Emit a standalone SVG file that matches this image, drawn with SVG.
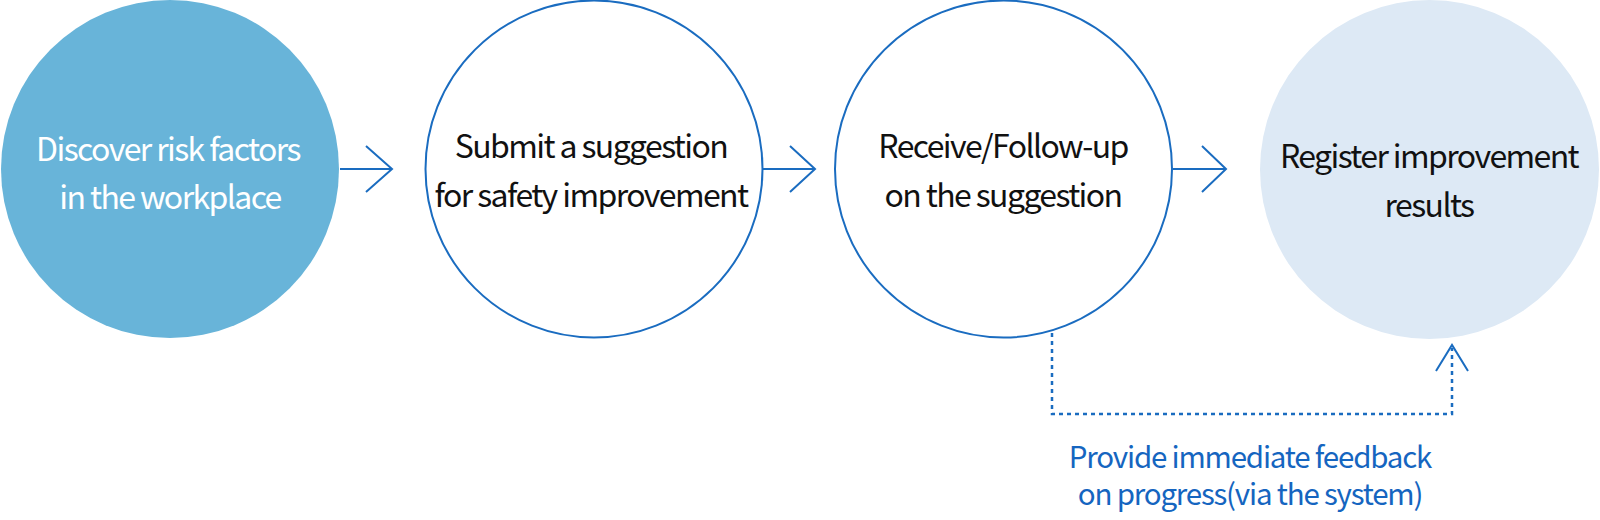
<svg xmlns="http://www.w3.org/2000/svg" width="1600" height="520" viewBox="0 0 1600 520">
<style>
.lbl{font-family:"Noto Sans CJK KR","Noto Sans",sans-serif;font-size:32px;letter-spacing:-1.6px;text-anchor:middle;fill:#111}
.w{fill:#fff}
.fb{font-family:"Noto Sans CJK KR","Noto Sans",sans-serif;font-size:29.5px;letter-spacing:-1.2px;text-anchor:middle;fill:#1565c0}
.ln{fill:none;stroke:#1a6cc0;stroke-width:2}
.dot{fill:none;stroke:#1a6cc0;stroke-width:2.5;stroke-dasharray:4 4}
</style>
<rect width="1600" height="520" fill="#fff"/>
<g id="n1">
<circle cx="170" cy="169" r="169" fill="#68b4d9"/>
<text class="lbl w" x="168" y="161">Discover risk factors</text>
<text class="lbl w" x="170" y="209">in the workplace</text>
</g>
<g id="n2">
<circle cx="594" cy="169" r="168.5" fill="#fff" stroke="#1a6cc0" stroke-width="2"/>
<text class="lbl" x="591" y="158">Submit a suggestion</text>
<text class="lbl" x="591" y="207">for safety improvement</text>
</g>
<g id="n3">
<circle cx="1003.5" cy="169" r="168.5" fill="#fff" stroke="#1a6cc0" stroke-width="2"/>
<text class="lbl" x="1003" y="158">Receive/Follow-up</text>
<text class="lbl" x="1003" y="207">on the suggestion</text>
</g>
<g id="n4">
<circle cx="1429.5" cy="169.5" r="169.5" fill="#dde9f5"/>
<text class="lbl" x="1429" y="168">Register improvement</text>
<text class="lbl" x="1429" y="217">results</text>
</g>
<g id="connectors">
<path class="ln" d="M340 169H392M366 146L392 169L366 192"/>
<path class="ln" d="M763 169H815M790 146L815 169L790 192"/>
<path class="ln" d="M1173 169H1226M1202 146L1226 169L1202 192"/>
<path class="dot" d="M1052 333V414H1452V348"/>
<path class="ln" d="M1436 371L1452 345L1468 371"/>
</g>
<g id="feedback">
<text class="fb" x="1250" y="468">Provide immediate feedback</text>
<text class="fb" x="1250" y="505">on progress(via the system)</text>
</g>
</svg>
